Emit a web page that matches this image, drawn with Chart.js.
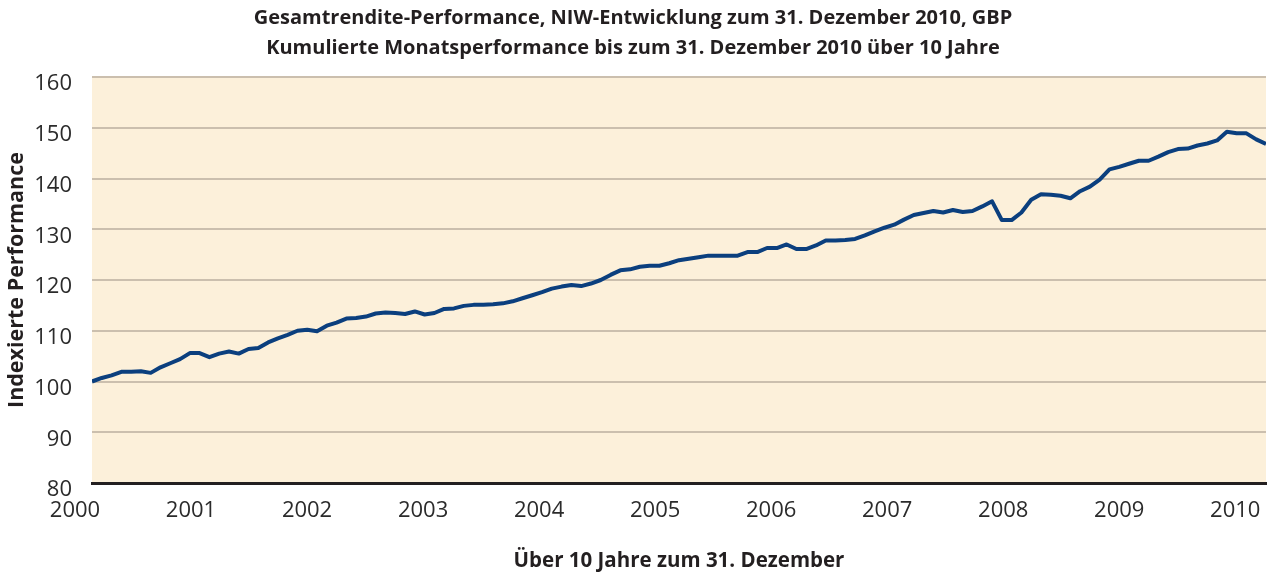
<!DOCTYPE html>
<html lang="de">
<head>
  <meta charset="UTF-8" />
  <title>Gesamtrendite-Performance</title>
  <style>
    body { margin: 0; background: #fff; }
    #wrap { width: 1270px; height: 575px; }
  </style>
</head>
<body>
  <div id="wrap"><canvas id="perfChart"></canvas></div>

  <script src="https://cdn.jsdelivr.net/npm/chart.js"></script>
  <script>
    // Jahresbeschriftung der x-Achse
    const yearLabels = ['2000', '2001', '2002', '2003', '2004', '2005', '2006', '2007', '2008', '2009', '2010'];

    // Indexierte Monatswerte (Start = 100), 121 Monatsendstände
    const perfValues = [
      100.0, 100.7, 101.2, 101.9, 101.9, 102.0, 101.7, 102.8, 103.6, 104.4,
      105.6, 105.6, 104.8, 105.5, 105.9, 105.5, 106.4, 106.6, 107.7, 108.5,
      109.2, 110.0, 110.2, 109.9, 111.0, 111.6, 112.4, 112.5, 112.8, 113.4,
      113.6, 113.5, 113.3, 113.8, 113.2, 113.5, 114.3, 114.4, 114.9, 115.1,
      115.1, 115.2, 115.4, 115.8, 116.4, 117.0, 117.6, 118.3, 118.7, 119.0,
      118.8, 119.3, 120.0, 121.0, 121.9, 122.1, 122.6, 122.8, 122.8, 123.3,
      123.9, 124.2, 124.5, 124.8, 124.8, 124.8, 124.8, 125.5, 125.5, 126.3,
      126.3, 127.0, 126.1, 126.1, 126.8, 127.8, 127.8, 127.9, 128.1, 128.8,
      129.6, 130.3, 130.9, 131.9, 132.8, 133.2, 133.6, 133.3, 133.8, 133.4,
      133.6, 134.5, 135.5, 131.8, 131.8, 133.3, 135.8, 136.9, 136.8, 136.6,
      136.1, 137.5, 138.4, 139.8, 141.8, 142.3, 142.9, 143.5, 143.5, 144.3,
      145.2, 145.8, 145.9, 146.5, 146.9, 147.5, 149.2, 148.9, 148.9, 147.7,
      146.8
    ];

    const points = perfValues.map((v, i) => ({ x: i, y: v }));

    // beige Hintergrund nur im Plotbereich
    const plotBackground = {
      id: 'plotBackground',
      beforeDraw(chart) {
        const { ctx, chartArea: a } = chart;
        ctx.save();
        ctx.fillStyle = '#fcf0da';
        ctx.fillRect(a.left, a.top, a.right - a.left, a.bottom - a.top);
        ctx.restore();
      }
    };

    const family = '"Open Sans", sans-serif';
    const tickFont = { family, size: 22 };

    new Chart(document.getElementById('perfChart'), {
      type: 'line',
      data: {
        datasets: [{
          data: points,
          borderColor: '#0b3f7e',
          borderWidth: 4,
          pointRadius: 0,
          tension: 0,
          borderJoinStyle: 'round'
        }]
      },
      options: {
        responsive: true,
        maintainAspectRatio: false,
        animation: false,
        layout: { padding: { left: 0, right: 4, top: 0, bottom: 2 } },
        plugins: {
          legend: { display: false },
          tooltip: { enabled: false },
          title: {
            display: true,
            text: [
              'Gesamtrendite-Performance, NIW-Entwicklung zum 31. Dezember 2010, GBP',
              'Kumulierte Monatsperformance bis zum 31. Dezember 2010 über 10 Jahre'
            ],
            color: '#231f20',
            font: { family, size: 20, weight: 'bold', lineHeight: 1.5 },
            padding: { top: 3, bottom: 14 }
          }
        },
        scales: {
          x: {
            type: 'linear',
            min: 0,
            max: perfValues.length - 1,
            afterBuildTicks(axis) {
              // Jahresmarken liegen etwa alle 11,86 Monatspunkte
              axis.ticks = yearLabels.map((_, k) => ({ value: -1.74 + k * 11.86 }));
            },
            afterFit(axis) {
              axis.height = 90;
              axis.paddingLeft = 0;
              axis.paddingRight = 0;
            },
            ticks: {
              autoSkip: false,
              maxRotation: 0,
              padding: 15,
              color: '#2b2b2b',
              font: tickFont,
              callback: (v, i) => yearLabels[i]
            },
            grid: { display: false, drawTicks: false },
            border: { display: true, color: '#231f20', width: 3 },
            title: {
              display: true,
              text: 'Über 10 Jahre zum 31. Dezember',
              color: '#231f20',
              font: { family, size: 20.5, weight: 'bold' },
              padding: { top: 24, bottom: 0 }
            }
          },
          y: {
            min: 80,
            max: 160,
            afterFit(axis) {
              axis.width = 92;
            },
            ticks: {
              stepSize: 10,
              padding: 20,
              labelOffset: 7,
              color: '#2b2b2b',
              font: tickFont
            },
            grid: {
              drawTicks: false,
              color: ctx => ctx.tick && ctx.tick.value === 80 ? 'rgba(0,0,0,0)' : '#cbbfae',
              lineWidth: 2
            },
            border: { display: false },
            title: {
              display: true,
              text: 'Indexierte Performance',
              color: '#231f20',
              font: { family, size: 21.5, weight: 'bold' },
              padding: { top: 4, bottom: 8 }
            }
          }
        }
      },
      plugins: [plotBackground]
    });
  </script>
</body>
</html>
